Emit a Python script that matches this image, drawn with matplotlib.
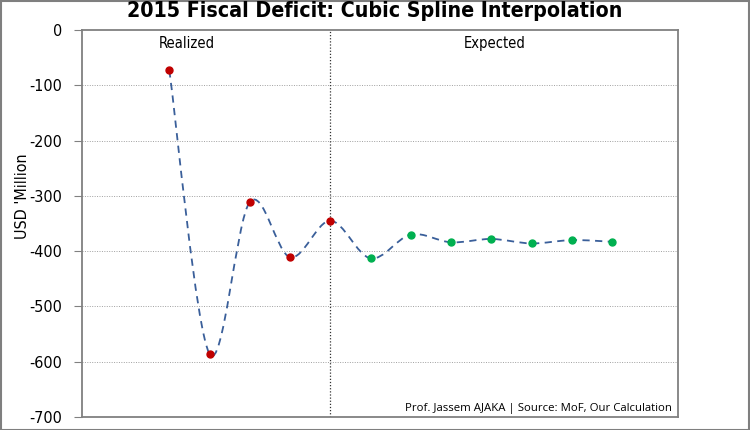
import numpy as np
import matplotlib
matplotlib.use('Agg')
import matplotlib.pyplot as plt
from matplotlib.path import Path
from matplotlib.patches import PathPatch, Rectangle

#Data (USD million, monthly)
months = [1, 2, 3, 4, 5, 6, 7, 8, 9, 10, 11, 12]
deficit = [-73, -586, -311, -411, -345, -413, -370, -384, -378, -386, -380, -383]
realized_count = 5
yticks = [0, -100, -200, -300, -400, -500, -600, -700]

narrow = dict(family='DejaVu Sans', stretch='condensed')

fig = plt.figure(figsize=(7.5, 4.3), dpi=100)
ax = fig.add_axes([82/750, 1-417/430, 596/750, 387/430])

#Smoothed line (Excel style bezier through the points)
x = np.array(months, dtype=float)
y = np.array(deficit, dtype=float)
px = np.concatenate([[x[0]], x, [x[-1]]])
py = np.concatenate([[y[0]], y, [y[-1]]])
verts = [(x[0], y[0])]
codes = [Path.MOVETO]
for i in range(len(x)-1):
    c1 = (x[i] + (px[i+2]-px[i])/6, y[i] + (py[i+2]-py[i])/6)
    c2 = (x[i+1] - (px[i+3]-px[i+1])/6, y[i+1] - (py[i+3]-py[i+1])/6)
    verts += [c1, c2, (x[i+1], y[i+1])]
    codes += [Path.CURVE4]*3
ax.add_patch(PathPatch(Path(verts, codes), facecolor='none', edgecolor='#3A5F9A',
                       lw=1.3, ls=(0, (4, 3)), zorder=3))

#Markers
ax.plot(months[:realized_count], deficit[:realized_count], 'o', color='#C00000',
        ms=5, zorder=4)
ax.plot(months[realized_count:], deficit[realized_count:], 'o', color='#00B050',
        ms=5, zorder=4)

#Axes
ax.set_xlim(-1.17, 13.64)
ax.set_ylim(-700, 0)
ax.set_yticks(yticks)
ax.set_yticklabels([str(v) for v in yticks], fontsize=11.5, **narrow)
ax.set_xticks([])
ax.tick_params(axis='y', direction='out', length=6, color='#808080', pad=8)
for s in ax.spines.values():
    s.set_color('#808080')
    s.set_linewidth(1.3)
for v in yticks[1:-1]:
    ax.axhline(v, color='#a0a0a0', lw=0.7, ls=(0, (1, 1.5)), zorder=1)
ax.axvline(months[realized_count-1], color='#333333', lw=0.9, ls=(0, (1, 1.5)), zorder=1)

ax.set_ylabel("USD 'Million", fontsize=11.5, **narrow)
ax.yaxis.set_label_coords(-0.088, 0.57)

ax.text(1.44, -25, 'Realized', fontsize=10.5, ha='center', va='center', **narrow)
ax.text(9.09, -25, 'Expected', fontsize=10.5, ha='center', va='center', **narrow)
ax.text(13.5, -685, 'Prof. Jassem AJAKA | Source: MoF, Our Calculation',
        family=['Open Sans', 'DejaVu Sans'], fontsize=8.2, ha='right', va='center')

#Title
fig.text(0.5, 1-17/430, '2015 Fiscal Deficit: Cubic Spline Interpolation',
         fontsize=15.3, weight='bold', ha='center', va='baseline', **narrow)

#Figure border
fig.patches.append(Rectangle((0.001, 0.001), 0.997, 0.997, transform=fig.transFigure,
                             fill=False, edgecolor='#7F7F7F', lw=1.5))

fig.savefig('out.png', dpi=100)
